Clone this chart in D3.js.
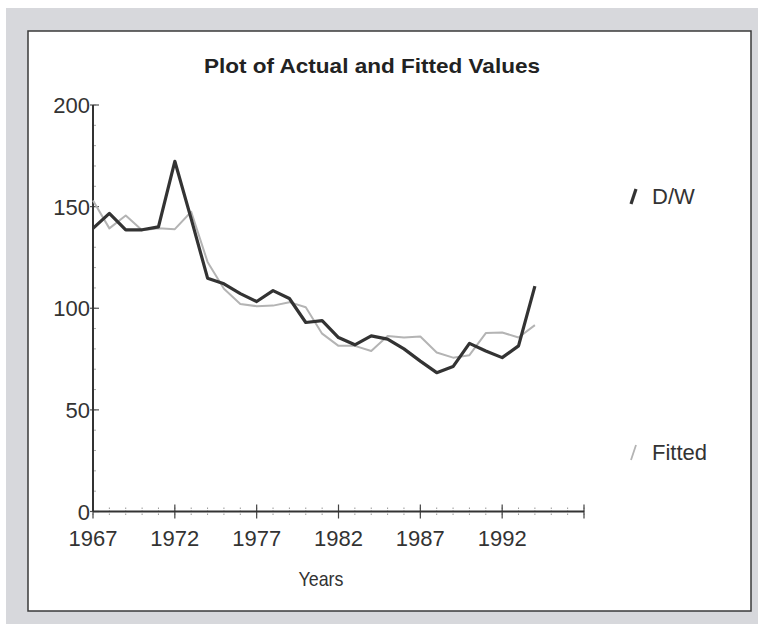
<!DOCTYPE html>
<html><head><meta charset="utf-8">
<script src="https://cdn.jsdelivr.net/npm/d3@7/dist/d3.min.js"></script>
<style>html,body{margin:0;padding:0;background:#fff;}svg{display:block;}</style>
</head><body>
<script>
const years = d3.range(1967, 1995);
const actual = [139.3,146.7,138.6,138.6,140.0,172.3,144.0,114.8,112.0,107.2,103.3,108.7,104.8,93.0,93.9,85.6,82.0,86.4,84.8,80.0,74.0,68.3,71.3,82.7,79.0,75.7,81.5,110.9];
const fitted = [153.0,139.3,145.6,138.4,139.3,138.9,147.5,122.8,109.6,102.1,101.0,101.3,103.0,100.5,87.5,81.5,81.5,79.0,86.4,85.6,86.1,78.2,75.7,76.9,87.8,88.1,85.6,91.7];
const xTickLabels = [1967,1972,1977,1982,1987,1992];
const yTickLabels = [0,50,100,150,200];
const seriesNames = ["D/W","Fitted"];
const seriesColors = ["#333333","#b4b4b4"];

const W = 765, H = 629;
const svg = d3.select("body").append("svg").attr("width", W).attr("height", H);
svg.append("rect").attr("x",6).attr("y",8).attr("width",752).attr("height",616).attr("fill","#d7d8dc");
svg.append("rect").attr("x",28).attr("y",31).attr("width",723).attr("height",580)
  .attr("fill","#ffffff").attr("stroke","#3a3a3a").attr("stroke-width",1.5);

const x = d3.scaleLinear().domain([1967,1997]).range([93,584]);
const y = d3.scaleLinear().domain([0,200]).range([511.5,105]);
const font = "Liberation Sans, Arial, sans-serif";

svg.append("text").attr("x",372).attr("y",73).attr("text-anchor","middle")
  .attr("font-family",font).attr("font-weight","bold").attr("font-size",21).attr("fill","#222")
  .attr("textLength",336).attr("lengthAdjust","spacingAndGlyphs")
  .text("Plot of Actual and Fitted Values");

// minor ticks
const g = svg.append("g");
g.selectAll(".xm").data(d3.range(1967,1998)).join("line")
  .attr("x1",d=>x(d)).attr("x2",d=>x(d)).attr("y1",y(0)-4).attr("y2",y(0)+4)
  .attr("stroke","#999").attr("stroke-width",1).attr("stroke-dasharray","1.5,1.5");
g.selectAll(".ym").data(d3.range(0,201,10)).join("line")
  .attr("x1",x(1967)).attr("x2",x(1967)+3).attr("y1",d=>y(d)).attr("y2",d=>y(d))
  .attr("stroke","#aaa").attr("stroke-width",1);
// major ticks
g.selectAll(".xM").data(xTickLabels.concat([1997])).join("line")
  .attr("x1",d=>x(d)).attr("x2",d=>x(d)).attr("y1",y(0)-7).attr("y2",y(0)+7)
  .attr("stroke","#444").attr("stroke-width",1.2);
g.selectAll(".yM").data(yTickLabels).join("line")
  .attr("x1",x(1967)-3).attr("x2",x(1967)+6).attr("y1",d=>y(d)).attr("y2",d=>y(d))
  .attr("stroke","#555").attr("stroke-width",1.2);
// axis lines
svg.append("line").attr("x1",x(1967)).attr("x2",x(1967)).attr("y1",y(200)).attr("y2",y(0))
  .attr("stroke","#333").attr("stroke-width",2);
svg.append("line").attr("x1",x(1967)).attr("x2",x(1997)).attr("y1",y(0)).attr("y2",y(0))
  .attr("stroke","#333").attr("stroke-width",2);

svg.selectAll(".yl").data(yTickLabels).join("text")
  .attr("x",90).attr("y",d=>y(d)+8).attr("text-anchor","end")
  .attr("font-family",font).attr("font-size",22).attr("fill","#333").text(d=>d);
svg.selectAll(".xl").data(xTickLabels).join("text")
  .attr("x",d=>x(d)).attr("y",546).attr("text-anchor","middle")
  .attr("font-family",font).attr("font-size",22).attr("fill","#333").text(d=>d);
svg.append("text").attr("x",321).attr("y",586).attr("text-anchor","middle")
  .attr("font-family",font).attr("font-size",21).attr("fill","#333")
  .attr("textLength",45).attr("lengthAdjust","spacingAndGlyphs").text("Years");

const line = d3.line().x((d,i)=>x(years[i])).y(d=>y(d));
svg.append("path").datum(fitted).attr("d",line).attr("fill","none")
  .attr("stroke",seriesColors[1]).attr("stroke-width",2).attr("stroke-linejoin","round");
svg.append("path").datum(actual).attr("d",line).attr("fill","none")
  .attr("stroke",seriesColors[0]).attr("stroke-width",3.2).attr("stroke-linejoin","round");

// legend
const legY = [196, 452];
seriesNames.forEach((n,i)=>{
  svg.append("line").attr("x1",631).attr("y1",legY[i]+8).attr("x2",636).attr("y2",legY[i]-7)
    .attr("stroke",seriesColors[i]).attr("stroke-width",i===0?3.2:1.8);
  svg.append("text").attr("x",652).attr("y",legY[i]+8).attr("font-family",font)
    .attr("font-size",22).attr("fill","#333").text(n);
});
</script>
</body></html>
